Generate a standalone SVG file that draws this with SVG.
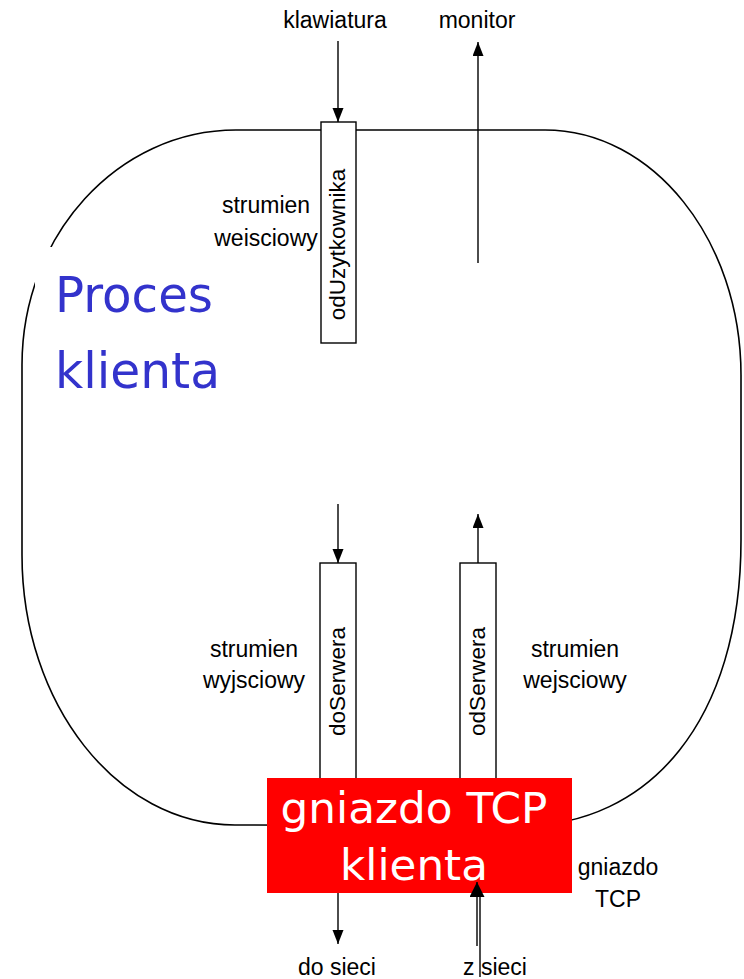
<svg xmlns="http://www.w3.org/2000/svg" width="744" height="979" viewBox="0 0 744 979">
<defs>
<style>
.lbl{font-family:"Liberation Sans",Arial,sans-serif;font-size:23px;fill:#000;text-anchor:middle}
.rot{font-family:"Liberation Sans",Arial,sans-serif;font-size:22.5px;fill:#000;text-anchor:middle}
.pipe{fill:#fff;stroke:#000;stroke-width:1.4}
.conn{stroke:#000;stroke-width:1.4;fill:none}
.big{font-family:"DejaVu Sans","Noto Sans",sans-serif}
</style>
<marker id="ah" markerUnits="userSpaceOnUse" markerWidth="14" markerHeight="12" refX="14" refY="5.5" orient="auto">
<path d="M0,0 L14,5.5 L0,11 z" fill="#000"/>
</marker>
<marker id="ahb" markerUnits="userSpaceOnUse" markerWidth="16" markerHeight="16" refX="15" refY="7.5" orient="auto">
<path d="M0,0 L15,7.5 L0,15 z" fill="#000"/>
</marker>
</defs>
<rect width="744" height="979" fill="#fff"/>

<g id="proces">
<path d="M236,130 L545,130 C653,130 741,240 741,375 L741,540 C741,720 650,826 520,826 L235,825 C117,825 22,704 22,555 L22,365 C22,235 118,130 236,130 Z" fill="none" stroke="#000" stroke-width="1.6"/>
<rect x="35" y="247" width="190" height="160" fill="#fff"/>
<text class="big" x="55" y="312" font-size="49" fill="#3333CC" textLength="158" lengthAdjust="spacingAndGlyphs">Proces</text>
<text class="big" x="55" y="388" font-size="49" fill="#3333CC" textLength="165" lengthAdjust="spacingAndGlyphs">klienta</text>
</g>

<g id="odUzytkownika">
<rect class="pipe" x="321" y="122" width="35" height="221"/>
<text class="rot" transform="translate(345,244.5) rotate(-90)" x="0" y="0">odUzytkownika</text>
</g>

<g id="doSerwera">
<rect class="pipe" x="320" y="563" width="36" height="230"/>
<text class="rot" transform="translate(345,681.5) rotate(-90)" x="0" y="0">doSerwera</text>
</g>

<g id="odSerwera">
<rect class="pipe" x="460" y="563" width="36" height="230"/>
<text class="rot" transform="translate(485,681.5) rotate(-90)" x="0" y="0">odSerwera</text>
</g>

<g id="gniazdo">
<rect x="267" y="778" width="305" height="115" fill="#FF0000"/>
<text class="big" x="414" y="823" font-size="42.5" fill="#fff" text-anchor="middle" textLength="267" lengthAdjust="spacingAndGlyphs">gniazdo TCP</text>
<text class="big" x="414" y="880" font-size="42.5" fill="#fff" text-anchor="middle" textLength="148" lengthAdjust="spacingAndGlyphs">klienta</text>
</g>

<g id="labels">
<text class="lbl" x="335" y="28">klawiatura</text>
<text class="lbl" x="477" y="28">monitor</text>
<text class="lbl" x="266" y="213">strumien</text>
<text class="lbl" x="266" y="246">weisciowy</text>
<text class="lbl" x="254" y="657">strumien</text>
<text class="lbl" x="254" y="688">wyjsciowy</text>
<text class="lbl" x="575" y="657">strumien</text>
<text class="lbl" x="575" y="688">wejsciowy</text>
<text class="lbl" x="618" y="875">gniazdo</text>
<text class="lbl" x="618" y="907">TCP</text>
<text class="lbl" x="337" y="975">do sieci</text>
<text class="lbl" x="495" y="975">z sieci</text>
</g>

<g id="connectors">
<line class="conn" x1="338" y1="41" x2="338" y2="122" marker-end="url(#ah)"/>
<line class="conn" x1="478" y1="263" x2="478" y2="42" marker-end="url(#ah)"/>
<line class="conn" x1="338" y1="504" x2="338" y2="563" marker-end="url(#ah)"/>
<line class="conn" x1="478" y1="563" x2="478" y2="514" marker-end="url(#ah)"/>
<line class="conn" x1="338" y1="893" x2="338" y2="944" marker-end="url(#ah)"/>
<line class="conn" x1="477" y1="946" x2="477" y2="882" marker-end="url(#ahb)"/>
<line class="conn" x1="480" y1="977" x2="480" y2="890"/>
</g>
</svg>
